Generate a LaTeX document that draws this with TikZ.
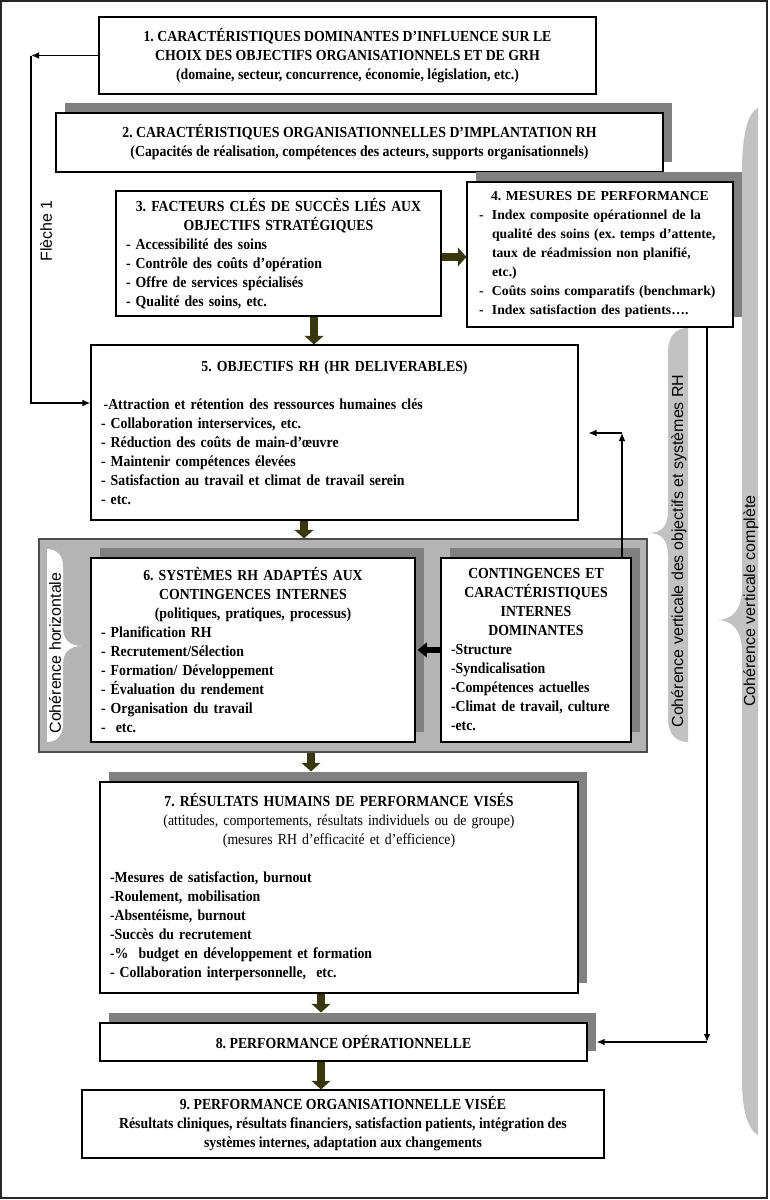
\documentclass[tikz,border=0pt]{standalone}
\usepackage{fontspec}
\setmainfont{Liberation Serif}
\setsansfont{Liberation Sans}
\newfontfamily\condserif[FakeStretch=0.9]{Liberation Serif}
\usepackage{tikz}
\usetikzlibrary{calc,positioning,arrows.meta,shadows}
\setlength{\parindent}{0pt}
\frenchspacing
\definecolor{olivearrow}{RGB}{56,56,14}
\definecolor{shadowgrey}{RGB}{128,128,128}
\definecolor{panelgrey}{RGB}{180,180,180}
\definecolor{bracegrey}{RGB}{194,194,194}

\begin{document}
\begin{tikzpicture}[
        x=0.75pt, y=-0.75pt,
        box/.style={rectangle, draw=black, fill=white, line width=0.8pt, inner xsep=7.5pt, inner ysep=0pt, font=\condserif\bfseries\fontsize{11.5}{14.25}\selectfont},
        sbox/.style={box, drop shadow={shadow xshift=6.75pt, shadow yshift=7.5pt, fill=shadowgrey, opacity=1}},
        side/.style={rotate=90, inner sep=0pt, font=\sffamily\fontsize{12}{14}\selectfont},
        block/.style={draw=olivearrow, line width=6.5pt, -{Triangle[width=14pt,length=6.5pt]}},
        arrow/.style={line width=1.3pt, -{Latex[length=6pt,width=5pt]}},
        thinarrow/.style={line width=0.8pt, -{Latex[length=6pt,width=5pt]}}
    ]
        \useasboundingbox (0,0) rectangle (769,1200);
        \draw [line width=1pt, black!85] (1,1) rectangle (767,1198);

        % Braces
        \fill [bracegrey] (758,108) -- (758,1135) .. controls (748,1130) and (742,1110) .. (742,1080) -- (742,652) .. controls (742,630) and (732,620) .. (717,620) .. controls (732,620) and (742,610) .. (742,588) -- (742,170) .. controls (742,135) and (748,112) .. (758,108) -- cycle;
        \fill [bracegrey] (688,328) -- (688,742) .. controls (676,742) and (668,734) .. (668,718) -- (668,556) .. controls (668,540) and (662,533) .. (648,533) .. controls (662,533) and (668,526) .. (668,510) -- (668,352) .. controls (668,336) and (676,328) .. (688,328) -- cycle;
        \node (vfull) [side] at (751,601) {Cohérence verticale complète};
        \node (vobj) [side] at (679,551) {Cohérence verticale des objectifs et systèmes RH};
        \node (fl1) [side] at (46,231) {Flèche 1};

        % Nodes
        \node (b1) [box, align=center, minimum width=372.75pt, minimum height=57.75pt] at (347.5,55.5)
            {1. CARACTÉRISTIQUES DOMINANTES D’INFLUENCE SUR LE\\ CHOIX DES OBJECTIFS ORGANISATIONNELS ET DE GRH\\ (domaine, secteur, concurrence, économie, législation, etc.)};
        \node (b2) [sbox, align=center, minimum width=455.25pt, minimum height=44.25pt] at (359.5,142.5)
            {2. CARACTÉRISTIQUES ORGANISATIONNELLES D’IMPLANTATION RH\\ (Capacités de réalisation, compétences des acteurs, supports organisationnels)};
        \node (b3) [box, align=left, text width=228.75pt, minimum height=93.75pt] at (278.5,253.5)
            {{\centering 3. FACTEURS CLÉS DE SUCCÈS LIÉS AUX\\ OBJECTIFS STRATÉGIQUES\par}
             - Accessibilité des soins\\ - Contrôle des coûts d’opération\\ - Offre de services spécialisés\\ - Qualité des soins, etc.};
        \node (b4) [sbox, align=left, inner xsep=4pt, text width=191.5pt, minimum height=108.75pt, font=\bfseries\fontsize{10.3}{14.25}\selectfont] at (600,254.5)
            {{\centering 4. MESURES DE PERFORMANCE\par}
             \hspace*{5pt}\makebox[9.75pt][l]{-}Index composite opérationnel de la\\
             \hspace*{14.75pt}qualité des soins (ex. temps d’attente,\\
             \hspace*{14.75pt}taux de réadmission non planifié,\\
             \hspace*{14.75pt}etc.)\\
             \hspace*{5pt}\makebox[9.75pt][l]{-}Coûts soins comparatifs (benchmark)\\
             \hspace*{5pt}\makebox[9.75pt][l]{-}Index satisfaction des patients….};
        \node (b5) [box, align=left, text width=350.25pt, minimum height=131.25pt] at (334.5,432.5)
            {{\centering 5. OBJECTIFS RH (HR DELIVERABLES)\par}\vspace{14.25pt}
             \hspace*{2pt}-Attraction et rétention des ressources humaines clés\\
             - Collaboration interservices, etc.\\ - Réduction des coûts de main-d’œuvre\\
             - Maintenir compétences élevées\\ - Satisfaction au travail et climat de travail serein\\ - etc.};

        % Internal contingencies panel
        \node (panel) [rectangle, draw=black!70, fill=panelgrey, line width=0.8pt, minimum width=456pt, minimum height=159.75pt] at (343,645.5) {};
        \fill [white] (47,549) -- (47,742) .. controls (56,742) and (63,736) .. (63,724) -- (63,664) .. controls (63,652) and (70,646) .. (82,646) .. controls (70,646) and (63,640) .. (63,628) -- (63,566) .. controls (63,555) and (56,549) .. (47,549) -- cycle;
        \node (hcoh) [side] at (55,653) {Cohérence horizontale};
        \node (b6) [sbox, align=left, text width=228pt, minimum height=138pt] at (253,650)
            {{\centering 6. SYSTÈMES RH ADAPTÉS AUX\\ CONTINGENCES INTERNES\\ (politiques, pratiques, processus)\par}
             - Planification RH\\ - Recrutement/Sélection\\ - Formation/ Développement\\
             - Évaluation du rendement\\ - Organisation du travail\\ -\ \ etc.};
        \node (b6b) [sbox, align=left, text width=127.5pt, minimum height=138pt] at (536,650)
            {{\centering CONTINGENCES ET\\ CARACTÉRISTIQUES\\ INTERNES\\ DOMINANTES\par}
             -Structure\\ -Syndicalisation\\ -Compétences actuelles\\ -Climat de travail, culture\\ -etc.};

        \node (b7) [sbox, align=left, text width=343.5pt, minimum height=158.25pt] at (339,887.5)
            {{\centering 7. RÉSULTATS HUMAINS DE PERFORMANCE VISÉS\\
              {\mdseries (attitudes, comportements, résultats individuels ou de groupe)}\\
              {\mdseries (mesures RH d’efficacité et d’efficience)}\par}\vspace{14.25pt}
             -Mesures de satisfaction, burnout\\ -Roulement, mobilisation\\ -Absentéisme, burnout\\
             -Succès du recrutement\\ -\%\ \ budget en développement et formation\\ - Collaboration interpersonnelle,\ \ etc.};
        \node (b8) [sbox, align=center, minimum width=365.25pt, minimum height=28.5pt] at (343.5,1042)
            {8. PERFORMANCE OPÉRATIONNELLE};
        \node (b9) [box, align=center, minimum width=391.5pt, minimum height=51pt] at (343,1124)
            {9. PERFORMANCE ORGANISATIONNELLE VISÉE\\ Résultats cliniques, résultats financiers, satisfaction patients, intégration des\\ systèmes internes, adaptation aux changements};

        % Main flow
        \coordinate (ax1) at (314,0);
        \coordinate (ax2) at (304,0);
        \coordinate (ax3) at (311,0);
        \coordinate (ax4) at (321,0);
        \coordinate (ay1) at (0,257);
        \draw [block] (b3.east |- ay1) -- (b4.west |- ay1);
        \draw [block] (b3.south -| ax1) -- (b5.north -| ax1);
        \draw [block] (b5.south -| ax2) -- (panel.north -| ax2);
        \draw [block] (panel.south -| ax3) -- ($(b7.north -| ax3)+(0,-10)$);
        \draw [block] (b7.south -| ax4) -- ($(b8.north -| ax4)+(0,-10)$);
        \draw [block] (b8.south -| ax4) -- (b9.north -| ax4);
        \draw [draw=black, line width=5pt, -{Triangle[width=11pt,length=7pt]}] (b6b.west) -- ($(b6.east)+(2,0)$);

        % Feedback lines
        \coordinate (f1x) at (31,0);
        \coordinate (f1bot) at (31,403);
        \draw [arrow] (b1.west) -- (b1.west -| f1x);
        \draw [arrow] (b1.west -| f1x) -- (f1bot) -- (f1bot -| b5.west);
        \coordinate (upc) at (622,433);
        \draw [thinarrow] (b6b.north -| upc) -- (upc);
        \draw [thinarrow] (upc) -- ($(upc -| b5.east)+(10,0)$);
        \coordinate (perf) at (707,1042);
        \draw [arrow] (b4.south -| perf) -- (perf);
        \draw [arrow] (perf) -- ($(perf -| b8.east)+(9,0)$);
    \end{tikzpicture}
\end{document}
